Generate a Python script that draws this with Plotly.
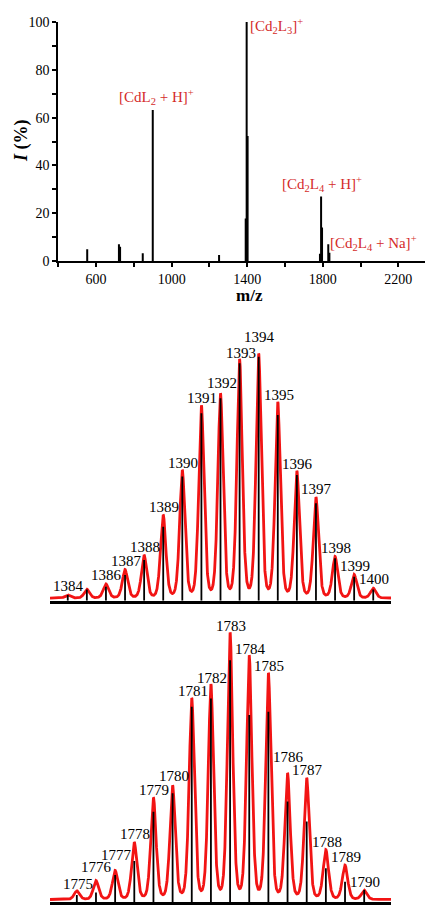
import numpy as np
import plotly.graph_objects as go

W, H = 426, 906
FONT = "Liberation Serif, Times New Roman, serif"

# ---------------- data ----------------
# Top panel: full ESI-MS survey spectrum
survey_mz = [553, 721, 727, 847, 900, 1251, 1392, 1397, 1402, 1785, 1791, 1796, 1829, 1835]
survey_int = [4.9, 7.0, 6.0, 3.2, 63.2, 2.5, 17.8, 100, 52.3, 3.0, 27.0, 14.0, 7.0, 3.5]
x_tick_vals = [400, 600, 800, 1000, 1200, 1400, 1600, 1800, 2000, 2200]
x_tick_text = ["", "600", "", "1000", "", "1400", "", "1800", "", "2200"]
y_tick_vals = [0, 10, 20, 30, 40, 50, 60, 70, 80, 90, 100]
y_tick_text = ["0", "", "20", "", "40", "", "60", "", "80", "", "100"]

# Middle panel: [Cd2L3]+ isotope pattern
cd2l3_mz = [1384, 1385, 1386, 1387, 1388, 1389, 1390, 1391, 1392,
            1393, 1394, 1395, 1396, 1397, 1398, 1399, 1400]
cd2l3_sim = [2.3, 4.6, 6.7, 12.5, 18.3, 34.6, 52.7, 79.0, 83.7,
             97.7, 100, 80.4, 52.3, 41.8, 17.7, 10.5, 5.0]
cd2l3_exp = [2.3, 4.6, 5.7, 10.5, 16.6, 30.2, 50.7, 76.6, 82.7,
             97.0, 99.7, 75.9, 51.4, 39.8, 17.3, 9.8, 4.6]
cd2l3_labels = ["1384", "", "1386", "1387", "1388", "1389", "1390", "1391", "1392",
                "1393", "1394", "1395", "1396", "1397", "1398", "1399", "1400"]

# Bottom panel: [Cd2L4 + H]+ isotope pattern
cd2l4_mz = [1775, 1776, 1777, 1778, 1779, 1780, 1781, 1782,
            1783, 1784, 1785, 1786, 1787, 1788, 1789, 1790]
cd2l4_sim = [4.2, 8.0, 11.7, 22.1, 38.7, 43.1, 75.7, 80.7,
             100, 91.4, 85.0, 47.6, 46.1, 19.3, 13.7, 4.4]
cd2l4_exp = [2.7, 3.7, 10.2, 15.5, 33.9, 40.8, 73.2, 76.3,
             90.6, 70.1, 71.3, 37.7, 30.2, 12.7, 7.7, 4.6]
cd2l4_labels = [str(m) for m in cd2l4_mz]

# label vertical offsets (px) that differ from the default
label_shift = {1392: 13, 1394: 19, 1775: 7, 1776: 14, 1777: 16, 1780: 11, 1786: 18}

RED = "#f21414"
ANN_RED = "#d42a2a"


def px_x(p):
    return p / W


def px_y(p):
    return 1 - p / H


def sticks(mz, vals):
    xs, ys = [], []
    for m, v in zip(mz, vals):
        xs += [m, m, None]
        ys += [0, v, None]
    return xs, ys


def profile(mz, heights, lo, hi, base=1.0, sigma=0.15, gamma=0.12, eta=0.3):
    """simulated isotope envelope: pseudo-Voigt line shape at each peak"""
    x = np.arange(lo, hi, 0.005)
    y = np.full_like(x, base)
    for m, h in zip(mz, heights):
        d = x - m
        shape = (1 - eta) * np.exp(-0.5 * (d / sigma) ** 2) + eta / (1 + (d / gamma) ** 2)
        y += (h - base) * shape
    return x, y


fig = go.Figure()

# top survey sticks
sx, sy = sticks(survey_mz, survey_int)
fig.add_trace(go.Scatter(x=sx, y=sy, mode="lines", line=dict(color="black", width=2),
                         xaxis="x", yaxis="y", hoverinfo="skip"))

# middle
mid_range = [1383.07, 1400.93]
px_, py_ = profile(cd2l3_mz, cd2l3_sim, mid_range[0], mid_range[1])
fig.add_trace(go.Scatter(x=px_, y=py_, mode="lines", line=dict(color=RED, width=2.8),
                         xaxis="x2", yaxis="y2", hoverinfo="skip"))
sx, sy = sticks(cd2l3_mz, cd2l3_exp)
fig.add_trace(go.Scatter(x=sx, y=sy, mode="lines", line=dict(color="black", width=1.8),
                         xaxis="x2", yaxis="y2", hoverinfo="skip"))

# bottom
bot_range = [1773.6, 1791.4]
px_, py_ = profile(cd2l4_mz, cd2l4_sim, bot_range[0], bot_range[1])
fig.add_trace(go.Scatter(x=px_, y=py_, mode="lines", line=dict(color=RED, width=2.8),
                         xaxis="x3", yaxis="y3", hoverinfo="skip"))
sx, sy = sticks(cd2l4_mz, cd2l4_exp)
fig.add_trace(go.Scatter(x=sx, y=sy, mode="lines", line=dict(color="black", width=1.8),
                         xaxis="x3", yaxis="y3", hoverinfo="skip"))

annotations = []
for mz, sim, labs, xr, yr in [(cd2l3_mz, cd2l3_sim, cd2l3_labels, "x2", "y2"),
                              (cd2l4_mz, cd2l4_sim, cd2l4_labels, "x3", "y3")]:
    for m, v, t in zip(mz, sim, labs):
        if not t:
            continue
        annotations.append(dict(x=m, y=v, xref=xr, yref=yr, text=t, showarrow=False,
                                xanchor="center", yanchor="middle", borderpad=0,
                                yshift=label_shift.get(m, 9), xshift=1,
                                font=dict(family=FONT, size=15, color="black")))

# top panel annotations
ann_font = dict(family=FONT, size=15, color=ANN_RED)
for text, x, y in [("[CdL<sub>2</sub> + H]<sup>+</sup>", 156, 97),
                   ("[Cd<sub>2</sub>L<sub>3</sub>]<sup>+</sup>", 276, 26),
                   ("[Cd<sub>2</sub>L<sub>4</sub> + H]<sup>+</sup>", 322, 184),
                   ("[Cd<sub>2</sub>L<sub>4</sub> + Na]<sup>+</sup>", 373, 243)]:
    annotations.append(dict(x=px_x(x), y=px_y(y), xref="paper", yref="paper", text=text,
                            showarrow=False, xanchor="center", yanchor="middle", font=ann_font))

annotations.append(dict(x=px_x(21), y=px_y(141), xref="paper", yref="paper",
                        text="<b><i>I</i> (%)</b>", textangle=-90, showarrow=False,
                        xanchor="center", yanchor="middle",
                        font=dict(family=FONT, size=18, color="black")))
annotations.append(dict(x=px_x(249), y=px_y(295), xref="paper", yref="paper",
                        text="<b>m/z</b>", showarrow=False,
                        xanchor="center", yanchor="middle",
                        font=dict(family=FONT, size=17, color="black")))

tick_font = dict(family=FONT, size=14, color="black")

fig.update_layout(
    width=W, height=H,
    margin=dict(l=0, r=0, t=0, b=0, autoexpand=False),
    paper_bgcolor="white", plot_bgcolor="white",
    showlegend=False,
    annotations=annotations,
    xaxis=dict(domain=[px_x(58.3), px_x(425)], range=[400, 2341], anchor="y",
               automargin=False,
               showline=True, linecolor="black", linewidth=2,
               tickmode="array", tickvals=x_tick_vals, ticktext=x_tick_text,
               ticks="outside", ticklen=4, tickwidth=1.5, tickcolor="black",
               tickfont=tick_font, showgrid=False, zeroline=False),
    yaxis=dict(domain=[px_y(261), px_y(22)], range=[0, 100], anchor="x",
               automargin=False,
               showline=True, linecolor="black", linewidth=2,
               tickmode="array", tickvals=y_tick_vals, ticktext=y_tick_text,
               ticks="outside", ticklen=4, tickwidth=1.5, tickcolor="black",
               tickfont=tick_font, showgrid=False, zeroline=False),
    xaxis2=dict(domain=[px_x(50), px_x(391)], range=mid_range, anchor="y2",
                automargin=False,
                showline=True, linecolor="black", linewidth=2.5,
                showticklabels=False, ticks="", showgrid=False, zeroline=False),
    yaxis2=dict(domain=[px_y(600.7), px_y(330)], range=[0, 110.6], anchor="x2",
                automargin=False, visible=False),
    xaxis3=dict(domain=[px_x(50), px_x(391)], range=bot_range, anchor="y3",
                automargin=False,
                showline=True, linecolor="black", linewidth=2.5,
                showticklabels=False, ticks="", showgrid=False, zeroline=False),
    yaxis3=dict(domain=[px_y(902.3), px_y(615)], range=[0, 107.5], anchor="x3",
                automargin=False, visible=False),
)

fig.write_html(
    "out.html",
    config={"displayModeBar": False},
    post_script="document.body.style.margin='0';document.body.style.overflow='hidden';",
)
